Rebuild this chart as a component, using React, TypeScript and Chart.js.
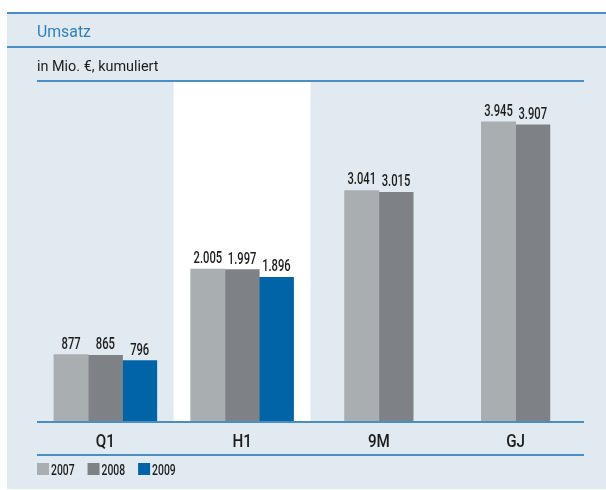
import React, { useEffect, useRef } from "react";
import { Chart, registerables } from "chart.js";

Chart.register(...registerables);

const categories = ["Q1", "H1", "9M", "GJ"];
const seriesLabels = ["2007", "2008", "2009"];
const values2007 = [877, 2005, 3041, 3945];
const values2008 = [865, 1997, 3015, 3907];
const values2009: (number | null)[] = [796, 1896, null, null];
const titleText = "Umsatz";
const subtitleText = "in Mio. €, kumuliert";

const COLORS = ["#a9aeb1", "#7e8286", "#0064a7"];
const BG = "#e2eaf1";
const LINE = "#4a8fc4";
const TITLE = "#2e7fbd";
const TEXT = "#1b1b1b";
const FONT = "Roboto, 'Liberation Sans', sans-serif";

function fmt(v: number): string {
  const s = String(Math.round(v));
  return s.replace(/\B(?=(\d{3})+(?!\d))/g, ".");
}

function drawScaledText(
  ctx: CanvasRenderingContext2D,
  text: string,
  x: number,
  y: number,
  sx: number,
  align: CanvasTextAlign
) {
  ctx.save();
  ctx.translate(x, y);
  ctx.scale(sx, 1);
  ctx.textAlign = align;
  ctx.fillText(text, 0, 0);
  ctx.restore();
}

const decorPlugin = {
  id: "decor",
  beforeDraw(chart: any) {
    const ctx = chart.ctx as CanvasRenderingContext2D;
    const area = chart.chartArea;
    const xs = chart.scales.x;
    ctx.save();
    // panel
    ctx.fillStyle = BG;
    ctx.fillRect(7, 13, 606 - 7, 489 - 13);
    // white band behind H1
    const half = (xs.getPixelForValue(1) - xs.getPixelForValue(0)) / 2;
    const cx = xs.getPixelForValue(1);
    ctx.fillStyle = "#ffffff";
    ctx.fillRect(cx - half, area.top, half * 2, area.bottom - area.top);
    // lines
    ctx.fillStyle = LINE;
    ctx.fillRect(7, 12, 606 - 7, 2);
    ctx.fillRect(7, 46, 606 - 7, 2);
    ctx.fillRect(area.left, area.top - 1, area.right - area.left, 2);
    ctx.fillRect(area.left, area.bottom, area.right - area.left, 2);
    ctx.fillRect(area.left, 454, area.right - area.left, 2);
    // title & subtitle
    ctx.fillStyle = TITLE;
    ctx.font = `17px ${FONT}`;
    ctx.textBaseline = "alphabetic";
    drawScaledText(ctx, titleText, area.left, 37, 0.93, "left");
    ctx.fillStyle = TEXT;
    ctx.font = `15px ${FONT}`;
    drawScaledText(ctx, subtitleText, area.left, 71, 0.96, "left");
    ctx.restore();
  },
  afterDatasetsDraw(chart: any) {
    const ctx = chart.ctx as CanvasRenderingContext2D;
    const area = chart.chartArea;
    const xs = chart.scales.x;
    ctx.save();
    ctx.fillStyle = TEXT;
    ctx.textBaseline = "alphabetic";
    // value labels
    ctx.font = `500 16px ${FONT}`;
    chart.data.datasets.forEach((ds: any, di: number) => {
      const meta = chart.getDatasetMeta(di);
      meta.data.forEach((bar: any, i: number) => {
        const v = ds.data[i];
        if (v === null || v === undefined) return;
        drawScaledText(ctx, fmt(v), bar.x, bar.y - 6, 0.7, "center");
      });
    });
    // category labels
    ctx.font = `500 19px ${FONT}`;
    categories.forEach((c, i) => {
      drawScaledText(ctx, c, xs.getPixelForValue(i), 447, 0.8, "center");
    });
    // legend
    ctx.font = `500 14px ${FONT}`;
    let x = area.left;
    chart.data.datasets.forEach((ds: any) => {
      ctx.fillStyle = ds.backgroundColor;
      ctx.fillRect(x, 463, 12, 12);
      ctx.fillStyle = TEXT;
      const w = ctx.measureText(ds.label).width * 0.74;
      drawScaledText(ctx, ds.label, x + 14, 475, 0.74, "left");
      x += 14 + w + 13;
    });
    ctx.restore();
  },
};

export default function App() {
  const ref = useRef<HTMLCanvasElement>(null);
  useEffect(() => {
    if (!ref.current) return;
    const chart = new Chart(ref.current, {
      type: "bar",
      data: {
        labels: categories,
        datasets: [
          { label: seriesLabels[0], data: values2007, backgroundColor: COLORS[0] },
          { label: seriesLabels[1], data: values2008, backgroundColor: COLORS[1] },
          { label: seriesLabels[2], data: values2009, backgroundColor: COLORS[2] },
        ],
      },
      options: {
        responsive: false,
        animation: false,
        maintainAspectRatio: false,
        layout: { padding: { left: 37, right: 22, top: 81, bottom: 69 } },
        datasets: { bar: { skipNull: true, barThickness: 34.3, borderWidth: 0 } } as any,
        plugins: {
          legend: { display: false },
          title: { display: false },
          tooltip: { enabled: false },
        },
        scales: {
          x: { display: false, offset: true, grid: { display: false } },
          y: { display: false, min: 0, max: 4485, grid: { display: false } },
        },
      },
      plugins: [decorPlugin],
    });
    return () => chart.destroy();
  }, []);
  return (
    <div style={{ position: "absolute", left: 0, top: 0, width: 606, height: 490 }}>
      <canvas ref={ref} width={606} height={490} style={{ width: 606, height: 490, display: "block" }} />
    </div>
  );
}
